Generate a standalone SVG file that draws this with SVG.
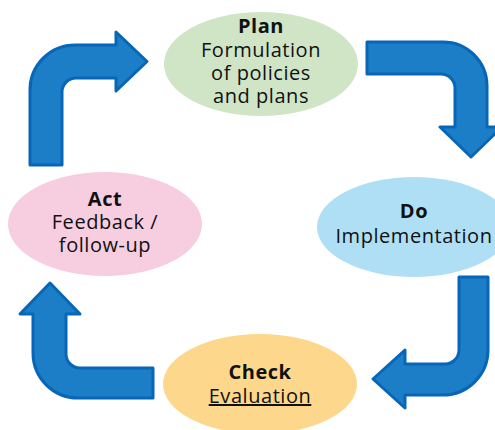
<svg xmlns="http://www.w3.org/2000/svg" width="495" height="430" viewBox="0 0 495 430">
  <style>
    .arrow { fill: #1c7ec6; stroke: #0766b8; stroke-width: 3; stroke-linejoin: round; }
    .t { font-family: "Open Sans", "Noto Sans", sans-serif; font-size: 20px; letter-spacing: 0.55px; fill: #111; text-anchor: middle; }
    .b { font-weight: bold; }
  </style>
  <rect width="495" height="430" fill="#fff"/>

  <g id="connectors">
    <!-- Act -> Plan -->
    <path class="arrow" d="M30,165 L30,90 A45,45 0 0 1 75,45 L116,45 L116,32 L147,61.5 L116,91 L116,78 L76,78 A14,14 0 0 0 62,92 L62,165 Z"/>
    <!-- Plan -> Do -->
    <path class="arrow" d="M367,42 L443,42 A44,44 0 0 1 487,86 L487,127 L502,127 L471,157 L440,127 L455,127 L455,88 A14,14 0 0 0 441,74 L367,74 Z"/>
    <!-- Do -> Check -->
    <path class="arrow" d="M488,277 L488,350 A45,45 0 0 1 443,395 L405,395 L405,408 L373,379 L405,350 L405,364 L445,364 A14,14 0 0 0 459,350 L459,277 Z"/>
    <!-- Check -> Act -->
    <path class="arrow" d="M153,368 L80,368 A14,14 0 0 1 66,354 L66,314 L80,314 L50,283 L20,314 L33,314 L33,353 A45,45 0 0 0 78,398 L153,398 Z"/>
  </g>

  <g id="plan">
    <ellipse cx="261" cy="64" rx="97" ry="52" fill="#cfe5c6"/>
    <text class="t b" x="261" y="33">Plan</text>
    <text class="t" x="261" y="57">Formulation</text>
    <text class="t" x="261" y="80">of policies</text>
    <text class="t" x="261" y="103">and plans</text>
  </g>

  <g id="do">
    <ellipse cx="414" cy="227" rx="97" ry="50" fill="#afdff5"/>
    <text class="t b" x="414" y="218">Do</text>
    <text class="t" x="414" y="243">Implementation</text>
  </g>

  <g id="check">
    <ellipse cx="260" cy="384" rx="97" ry="50" fill="#fdd88c"/>
    <text class="t b" x="260" y="379">Check</text>
    <text class="t" x="260" y="403" text-decoration="underline">Evaluation</text>
  </g>

  <g id="act">
    <ellipse cx="105" cy="224" rx="97" ry="52" fill="#f7cde0"/>
    <text class="t b" x="105" y="206">Act</text>
    <text class="t" x="105" y="229">Feedback /</text>
    <text class="t" x="105" y="252">follow-up</text>
  </g>
</svg>
